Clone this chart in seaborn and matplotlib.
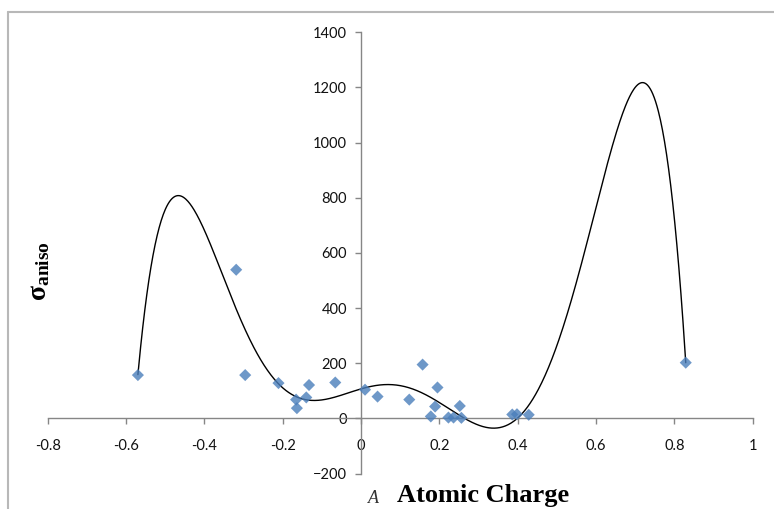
import numpy as np
import pandas as pd
import seaborn as sns
import matplotlib
matplotlib.use("Agg")
import matplotlib.pyplot as plt
from matplotlib.lines import Line2D

# Data
charge = [-0.570, -0.319, -0.296, -0.211, -0.166, -0.164, -0.140, -0.133, -0.066,
          0.010, 0.042, 0.123, 0.157, 0.178, 0.189, 0.195, 0.223, 0.236, 0.252,
          0.256, 0.386, 0.398, 0.428, 0.829]
sigma_aniso = [157, 539, 157, 128, 68, 37, 76, 121, 130,
               104, 79, 68, 195, 7, 43, 112, 3, 3, 45,
               2, 14, 15, 13, 202]
x_ticks = [-0.8, -0.6, -0.4, -0.2, 0, 0.2, 0.4, 0.6, 0.8, 1]
x_tick_labels = ["-0.8", "-0.6", "-0.4", "-0.2", "0", "0.2", "0.4", "0.6", "0.8", "1"]
y_ticks = [-200, 0, 200, 400, 600, 800, 1000, 1200, 1400]

df = pd.DataFrame({"charge": charge, "sigma": sigma_aniso})

sns.set_theme(style="white")
plt.rcParams["font.family"] = ["Lato", "DejaVu Sans"]
plt.rcParams["mathtext.fontset"] = "custom"
plt.rcParams["mathtext.rm"] = "Liberation Serif"
plt.rcParams["mathtext.bf"] = "Liberation Serif:bold"
plt.rcParams["mathtext.it"] = "Liberation Serif:italic"

fig = plt.figure(figsize=(7.74, 5.09), dpi=100)
ax = fig.add_axes([0.0618, 0.0697, 0.9107, 0.8668])

# 6th-order polynomial trendline through the scatter, as in the source chart
sns.regplot(data=df, x="charge", y="sigma", order=6, ci=None, truncate=True,
            ax=ax, marker="D",
            scatter_kws=dict(s=38, color="#4a7ebb", edgecolors="none", zorder=3),
            line_kws=dict(color="black", lw=1.0, zorder=2))

# evaluate the same fitted polynomial on a finer grid for a smooth curve
trend = ax.lines[0]
tx, ty = trend.get_data()
coef = np.polyfit(tx, ty, 6)
fine = np.linspace(tx.min(), tx.max(), 800)
trend.set_data(fine, np.polyval(coef, fine))

ax.set_xlim(-0.8, 1.0)
ax.set_ylim(-200, 1400)
ax.set_xticks(x_ticks)
ax.set_xticklabels(x_tick_labels)
ax.set_yticks(y_ticks)
ax.set_xlabel("")
ax.set_ylabel("")

axis_col = "#868686"
for s in ["top", "right"]:
    ax.spines[s].set_visible(False)
ax.spines["left"].set_position(("data", 0))
ax.spines["bottom"].set_position(("data", 0))
for s in ["left", "bottom"]:
    ax.spines[s].set_color(axis_col)
    ax.spines[s].set_linewidth(1.0)
ax.tick_params(axis="both", which="major", direction="out", length=4, width=1,
               color=axis_col, labelsize=10.5, labelcolor="#111111")
ax.tick_params(axis="x", pad=11, bottom=True)
ax.tick_params(axis="y", pad=6, left=True)
ax.grid(False)
ax.patch.set_alpha(0)

# axis titles
fig.text(0.051, 0.468, r"$\mathbf{\sigma}_{\mathbf{aniso}}$", rotation=90,
         ha="center", va="center", fontsize=20, color="black")
fig.text(0.624, 0.004, "Atomic Charge", ha="center", va="bottom",
         fontsize=19, fontweight="bold", family="Liberation Serif", color="black")
fig.text(0.482, 0.003, "A", ha="center", va="bottom", fontsize=13,
         style="italic", family="Liberation Serif", color="#333333")

# chart-area border (top and left edges visible)
border = "#b8b8b8"
fig.add_artist(Line2D([7.5 / 774, 1.0], [1 - 11.5 / 509, 1 - 11.5 / 509],
                      color=border, lw=1.5, transform=fig.transFigure))
fig.add_artist(Line2D([7.5 / 774, 7.5 / 774], [0.0, 1 - 11.5 / 509],
                      color=border, lw=1.5, transform=fig.transFigure))

fig.savefig("out.png", dpi=100)
